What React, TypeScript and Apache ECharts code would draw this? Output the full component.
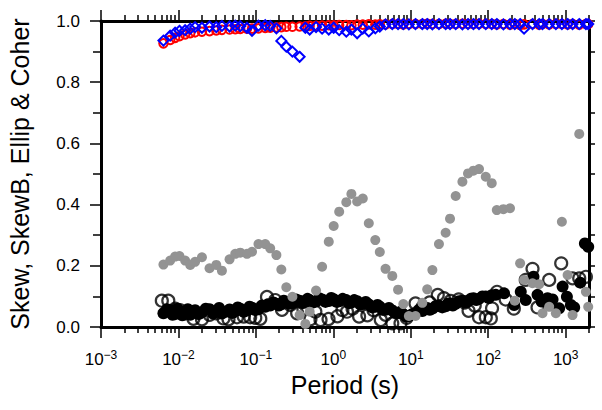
import React, { useEffect, useRef } from 'react';
import * as echarts from 'echarts';

// Shared period grid (s)
const periods = [0.0064, 0.00782, 0.00906, 0.0103, 0.0122, 0.0142, 0.0164, 0.0201, 0.0252, 0.0308,
  0.0364, 0.0457, 0.0542, 0.0628, 0.0767, 0.0891, 0.108, 0.132, 0.153, 0.184,
  0.213, 0.247, 0.296, 0.367, 0.435, 0.495, 0.598, 0.716, 0.873, 1.01,
  1.19, 1.47, 1.71, 2.03, 2.40, 2.87, 3.48, 3.98, 4.72, 5.77,
  6.85, 8.00, 9.45, 11.5, 14.1, 16.3, 19.0, 23.1, 28.2, 32.1,
  38.0, 46.4, 54.8, 64.4, 76.0, 92.9, 111, 129, 157, 191,
  220, 258, 290, 373, 454, 502, 612, 747, 893, 1059,
  1227, 1496, 1824, 1954];

// Ellipticity (gray filled)
const ellip = [0.204, 0.217, 0.23, 0.232, 0.217, 0.203, 0.213, 0.228, 0.192, 0.203,
  0.184, 0.221, 0.239, 0.243, 0.239, 0.246, 0.271, 0.271, 0.257, 0.235,
  0.188, 0.13, 0.099, 0.039, 0.01, 0.05, 0.119, 0.197, 0.279, 0.33,
  0.377, 0.408, 0.435, 0.41, 0.42, 0.339, 0.284, 0.245, 0.19, 0.167,
  0.122, 0.075, 0.036, 0.036, 0.079, 0.123, 0.186, 0.271, 0.308, 0.354,
  0.428, 0.475, 0.502, 0.511, 0.516, 0.491, 0.47, 0.382, 0.385, 0.388,
  0.086, 0.208, 0.154, 0.143, 0.14, 0.045, 0.066, 0.045, 0.344, 0.17,
  0.039, 0.631, 0.115, 0.066];

// Coherence (red open circles)
const coher = [0.927, 0.938, 0.945, 0.95, 0.956, 0.96, 0.963, 0.965, 0.967, 0.969,
  0.971, 0.972, 0.973, 0.974, 0.975, 0.975, 0.976, 0.977, 0.978, 0.979,
  0.98, 0.981, 0.981, 0.982, 0.983, 0.984, 0.984, 0.985, 0.986, 0.986,
  0.987, 0.987, 0.986, 0.988, 0.988, 0.989, 0.988, 0.989, 0.989, 0.99,
  0.99, 0.989, 0.99, 0.99, 0.99, 0.991, 0.99, 0.99, 0.991, 0.99,
  0.99, 0.991, 0.99, 0.99, 0.991, 0.99, 0.99, 0.989, 0.99, 0.988,
  0.99, 0.987, 0.989, 0.99, 0.988, 0.99, 0.989, 0.99, 0.99, 0.989,
  0.99, 0.988, 0.99, 0.99];

// Coherence B (blue open diamonds)
const coherB = [0.936, 0.952, 0.962, 0.968, 0.97, 0.975, 0.98, 0.978, 0.982, 0.98,
  0.984, 0.982, 0.985, 0.983, 0.978, 0.968, 0.985, 0.986, 0.984, 0.976,
  0.935, 0.916, 0.9, 0.883, 0.978, 0.972, 0.98, 0.975, 0.972, 0.978,
  0.97, 0.965, 0.972, 0.96, 0.975, 0.966, 0.976, 0.982, 0.989, 0.99,
  0.99, 0.99, 0.989, 0.99, 0.99, 0.99, 0.989, 0.99, 0.99, 0.99,
  0.99, 0.989, 0.99, 0.99, 0.99, 0.99, 0.99, 0.99, 0.989, 0.99,
  0.99, 0.99, 0.975, 0.99, 0.99, 0.99, 0.99, 0.99, 0.99, 0.99,
  0.99, 0.99, 0.99, 0.99];

// Skew (black filled)
const skewPeriods = [0.0064, 0.0071, 0.00782, 0.0084, 0.00906, 0.0097, 0.0103, 0.0112, 0.0122, 0.0132,
  0.0142, 0.0153, 0.0164, 0.0182, 0.0201, 0.0225, 0.0252, 0.0279, 0.0308, 0.0335,
  0.0364, 0.0408, 0.0457, 0.0498, 0.0542, 0.0583, 0.0628, 0.0694, 0.0767, 0.0827,
  0.0891, 0.098, 0.108, 0.119, 0.132, 0.142, 0.153, 0.168, 0.184, 0.198,
  0.213, 0.229, 0.247, 0.27, 0.296, 0.33, 0.367, 0.4, 0.435, 0.464,
  0.495, 0.544, 0.598, 0.654, 0.716, 0.791, 0.873, 0.939, 1.01, 1.1,
  1.19, 1.32, 1.47, 1.59, 1.71, 1.86, 2.03, 2.21, 2.4, 2.62,
  2.87, 3.16, 3.48, 3.72, 3.98, 4.33, 4.72, 5.22, 5.77, 6.29,
  6.85, 7.4, 8.0, 8.7, 9.45, 10.4, 11.5, 12.7, 14.1, 15.2,
  16.3, 17.6, 19.0, 20.9, 23.1, 25.5, 28.2, 30.1, 32.1, 34.9,
  38.0, 42, 46.4, 50.4, 54.8, 59.4, 64.4, 70, 76.0, 84,
  92.9, 101.5, 111,
  125, 160, 216, 263, 305, 384, 433, 488, 583, 677, 824, 912, 1037, 1167, 1288, 1542, 1770, 1954];
const skew = [0.045, 0.058, 0.055, 0.04, 0.042, 0.06, 0.052, 0.038, 0.047, 0.058,
  0.04, 0.05, 0.055, 0.042, 0.048, 0.06, 0.058, 0.044, 0.05, 0.062,
  0.044, 0.05, 0.057, 0.046, 0.052, 0.064, 0.06, 0.05, 0.054, 0.066,
  0.063, 0.055, 0.058, 0.07, 0.066, 0.074, 0.07, 0.08, 0.076, 0.07,
  0.074, 0.086, 0.082, 0.076, 0.078, 0.09, 0.086, 0.078, 0.08, 0.092,
  0.088, 0.08, 0.083, 0.094, 0.09, 0.082, 0.085, 0.095, 0.091, 0.082,
  0.084, 0.092, 0.088, 0.078, 0.08, 0.088, 0.084, 0.074, 0.075, 0.082,
  0.074, 0.064, 0.066, 0.072, 0.066, 0.056, 0.056, 0.062, 0.054, 0.046,
  0.046, 0.05, 0.042, 0.034, 0.036, 0.042, 0.046, 0.056, 0.052, 0.058,
  0.062, 0.056, 0.06, 0.068, 0.07, 0.064, 0.068, 0.076, 0.077, 0.07,
  0.076, 0.084, 0.086, 0.08, 0.084, 0.092, 0.094, 0.088, 0.092, 0.1,
  0.1, 0.095, 0.104,
  0.105, 0.11, 0.072, 0.115, 0.088, 0.164, 0.105, 0.083, 0.094, 0.09,
  0.061, 0.132, 0.099, 0.072, 0.064, 0.145, 0.273, 0.262];

// Skew B (black open circles)
const skewBPeriods = [0.0061, 0.0074, 0.0091, 0.0105, 0.0122, 0.0156, 0.0201, 0.0252, 0.0308, 0.0381,
  0.0443, 0.057, 0.0696, 0.0843, 0.0982, 0.114, 0.139, 0.178, 0.217, 0.278,
  0.341, 0.41, 0.506, 0.586, 0.683, 0.867, 1.13, 1.31, 1.5, 1.77,
  2.15, 2.75, 3.3, 4.1, 4.72, 5.77, 7.36, 8.83, 11.5, 14.2,
  17.5, 22.3, 26.8, 32.7, 41.5, 49.7, 55.7, 66.9, 76, 93,
  108, 112, 130, 168, 214, 305, 373, 433, 612, 875,
  1227, 1496, 1824];
const skewB = [0.086, 0.086, 0.06, 0.055, 0.045, 0.027, 0.025, 0.04, 0.045, 0.028,
  0.025, 0.032, 0.034, 0.032, 0.03, 0.027, 0.098, 0.088, 0.056, 0.072,
  0.045, 0.06, 0.025, 0.05, 0.023, 0.026, 0.035, 0.055, 0.05, 0.06,
  0.034, 0.038, 0.055, 0.023, 0.04, 0.012, 0.012, 0.03, 0.077, 0.065,
  0.08, 0.105, 0.094, 0.085, 0.09, 0.08, 0.053, 0.07, 0.032, 0.032,
  0.028, 0.061, 0.115, 0.09, 0.06, 0.154, 0.19, 0.064, 0.154, 0.208,
  0.159, 0.159, 0.164];

const xMajorTicks = [0.001, 0.01, 0.1, 1, 10, 100, 1000];
const xMinorTicks: number[] = [];
for (const d of xMajorTicks) {
  for (let k = 2; k <= 9; k++) {
    const v = +(k * d).toPrecision(3);
    if (v <= 2000) xMinorTicks.push(v);
  }
}
const X_MIN = 0.001;
const X_MAX = 2000;
const xTitle = 'Period (s)';
const yTitle = 'Skew, SkewB, Ellip & Coher';

const FONT = "'Liberation Sans', Arial, Helvetica, sans-serif";

const pairs = (xs: number[], ys: number[]) => xs.map((x, i) => [x, ys[i]]);

export default function App() {
  const ref = useRef<HTMLDivElement>(null);
  useEffect(() => {
    if (!ref.current) return;
    const chart = echarts.init(ref.current, undefined, { renderer: 'svg' });
    const lineStyle = { color: '#000', width: 3 };
    const tickLine = { color: '#000', width: 1.5 };
    const baseX = { type: 'log', logBase: 10, min: X_MIN, max: X_MAX, gridIndex: 0, splitLine: { show: false }, minorSplitLine: { show: false } };
    const option: any = {
      animation: false,
      backgroundColor: '#fff',
      grid: { left: 101, right: 13, top: 21, bottom: 83, containLabel: false, outerBoundsMode: 'none' },
      xAxis: [
        {
          ...baseX, position: 'bottom',
          axisLine: { show: true, onZero: false, lineStyle },
          axisTick: { show: true, customValues: xMajorTicks, length: 11, lineStyle: tickLine },
          axisLabel: {
            show: true, customValues: xMajorTicks, margin: 22,
            formatter: (v: number) => {
              const e = Math.round(Math.log10(v));
              return '{b|10}{s|' + (e < 0 ? '\u2212' + (-e) : String(e)) + '}';
            },
            rich: {
              b: { fontSize: 17, fontFamily: FONT, color: '#000', lineHeight: 20 },
              s: { fontSize: 12, fontFamily: FONT, color: '#000', lineHeight: 12, verticalAlign: 'top' },
            },
          },
          name: xTitle, nameLocation: 'middle', nameGap: 40,
          nameTextStyle: { fontSize: 25, fontFamily: FONT, color: '#000', fontWeight: 'normal' },
        },
        {
          ...baseX, position: 'bottom',
          axisLine: { show: false, onZero: false },
          axisTick: { show: true, customValues: xMinorTicks, length: 6, lineStyle: tickLine },
          axisLabel: { show: false },
        },
        {
          ...baseX, position: 'top',
          axisLine: { show: true, onZero: false, lineStyle },
          axisTick: { show: true, customValues: xMajorTicks, length: 11, lineStyle: tickLine },
          axisLabel: { show: false },
        },
        {
          ...baseX, position: 'top',
          axisLine: { show: false, onZero: false },
          axisTick: { show: true, customValues: xMinorTicks, length: 6, lineStyle: tickLine },
          axisLabel: { show: false },
        },
      ],
      yAxis: [
        {
          type: 'value', min: 0, max: 1, interval: 0.2, position: 'left',
          axisLine: { show: true, onZero: false, lineStyle },
          axisTick: { show: true, length: 11, lineStyle: tickLine },
          minorTick: { show: true, splitNumber: 2, length: 8, lineStyle: tickLine },
          axisLabel: { margin: 21, fontSize: 17, fontFamily: FONT, color: '#000', formatter: (v: number) => v.toFixed(1) },
          splitLine: { show: false }, minorSplitLine: { show: false },
          name: yTitle, nameLocation: 'middle', nameGap: 69,
          nameTextStyle: { fontSize: 25, fontFamily: FONT, color: '#000', fontWeight: 'normal' },
        },
        {
          type: 'value', min: 0, max: 1, interval: 0.1, position: 'right',
          axisLine: { show: true, onZero: false, lineStyle },
          axisTick: { show: true, length: 6, lineStyle: tickLine },
          axisLabel: { show: false },
          splitLine: { show: false },
        },
      ],
      series: [
        {
          name: 'SkewB', type: 'scatter', xAxisIndex: 0, yAxisIndex: 0,
          data: pairs(skewBPeriods, skewB), symbol: 'circle', symbolSize: 12,
          itemStyle: { color: 'rgba(0,0,0,0)', borderColor: '#000', borderWidth: 2.2 },
        },
        {
          name: 'Skew', type: 'scatter', xAxisIndex: 0, yAxisIndex: 0,
          data: pairs(skewPeriods, skew), symbol: 'circle', symbolSize: 12,
          itemStyle: { color: '#000', opacity: 1 },
        },
        {
          name: 'Ellip', type: 'scatter', xAxisIndex: 0, yAxisIndex: 0,
          data: pairs(periods, ellip), symbol: 'circle', symbolSize: 10,
          itemStyle: { color: '#939393', opacity: 1 },
        },
        {
          name: 'Coher', type: 'scatter', xAxisIndex: 0, yAxisIndex: 0,
          data: pairs(periods, coher), symbol: 'circle', symbolSize: 8.5,
          itemStyle: { color: 'rgba(0,0,0,0)', borderColor: '#ff0000', borderWidth: 2, opacity: 1 },
        },
        {
          name: 'CoherB', type: 'scatter', xAxisIndex: 0, yAxisIndex: 0,
          data: pairs(periods, coherB), symbol: 'diamond', symbolSize: 10,
          itemStyle: { color: 'rgba(0,0,0,0)', borderColor: '#0000ff', borderWidth: 2, opacity: 1 },
        },
      ],
    };
    chart.setOption(option);
    return () => chart.dispose();
  }, []);
  return <div ref={ref} style={{ position: 'fixed', left: 0, top: 0, width: 602, height: 410 }} />;
}
